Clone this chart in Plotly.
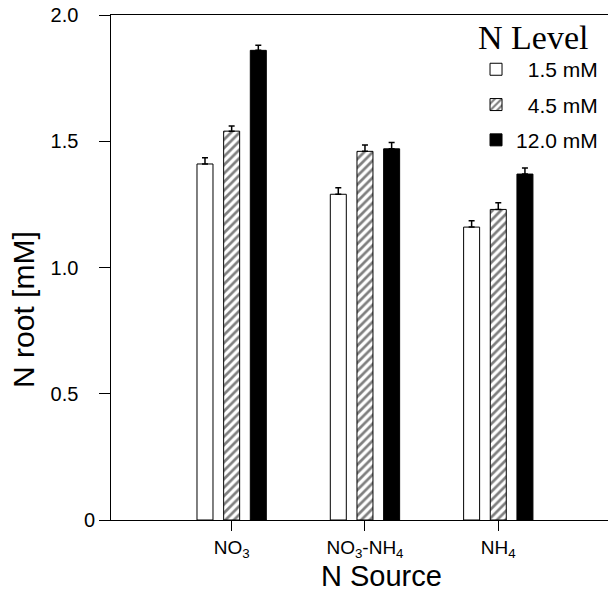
import plotly.graph_objects as go

# ---- data ----
sources = ["NO<sub>3</sub>", "NO<sub>3</sub>-NH<sub>4</sub>", "NH<sub>4</sub>"]
levels = ["1.5 mM", "4.5 mM", "12.0 mM"]
vals_15 = [1.41, 1.29, 1.16]
vals_45 = [1.54, 1.46, 1.23]
vals_120 = [1.86, 1.47, 1.37]
err_15 = [0.025, 0.026, 0.025]
err_45 = [0.020, 0.025, 0.026]
err_120 = [0.020, 0.025, 0.024]
y_tick_vals = [0, 0.5, 1.0, 1.5, 2.0]
y_tick_text = ["0", "0.5", "1.0", "1.5", "2.0"]

SANS = "Liberation Sans, Arial, sans-serif"
SERIF = "Liberation Serif, Times New Roman, serif"
NB = "\u00a0"

series = [
    (levels[0], vals_15, err_15, dict(color="white", line=dict(color="black", width=1))),
    (levels[1], vals_45, err_45, dict(color="white", line=dict(color="black", width=1),
                                     pattern=dict(shape="/", fgcolor="black", bgcolor="white",
                                                  size=6, solidity=0.45))),
    (levels[2], vals_120, err_120, dict(color="black", line=dict(color="black", width=1))),
]
pads = [NB * 2, NB * 2, ""]

fig = go.Figure()
for (name, vals, errs, marker), pad in zip(series, pads):
    fig.add_trace(go.Bar(
        x=sources, y=vals, name=pad + name, marker=marker,
        legendgroup=name,
        error_y=dict(type="data", array=errs, arrayminus=[0] * len(errs), symmetric=False,
                     color="black", thickness=1.5, width=3),
    ))

fig.update_layout(
    width=608, height=598,
    margin=dict(l=111, r=0, t=15, b=78),
    paper_bgcolor="white", plot_bgcolor="white",
    barmode="group", bargap=0.40, bargroupgap=0.40,
    font=dict(family=SANS, size=19, color="black"),
    showlegend=True,
    legend=dict(
        title=dict(text="N Level", font=dict(family=SERIF, size=34, color="black")),
        font=dict(family=SANS, size=21, color="black"),
        x=0.99, xanchor="right", y=1.02, yanchor="top",
        bgcolor="rgba(0,0,0,0)", tracegroupgap=5, traceorder="grouped",
    ),
    xaxis=dict(
        type="category", range=[-0.905, 2.823],
        showline=True, linecolor="black", linewidth=1, mirror=True,
        ticks="outside", ticklen=10, tickcolor="black", tickwidth=1,
        showgrid=False, zeroline=False,
        tickfont=dict(family=SANS, size=19, color="black"),
    ),
    yaxis=dict(
        range=[0, 2.0], tickvals=y_tick_vals,
        ticktext=[t if t == "0" else t + NB * 3 for t in y_tick_text],
        showline=True, linecolor="black", linewidth=1,
        ticks="outside", ticklen=11, tickcolor="black", tickwidth=1,
        showgrid=False, zeroline=False,
        tickfont=dict(family=SANS, size=20, color="black"),
    ),
    annotations=[
        dict(text="N root [mM]", textangle=-90, xref="paper", yref="paper",
             x=-0.175, y=0.416, xanchor="center", yanchor="middle", showarrow=False,
             font=dict(family=SANS, size=30, color="black")),
        dict(text="N Source", xref="paper", yref="paper",
             x=0.545, y=-0.111, xanchor="center", yanchor="middle", showarrow=False,
             font=dict(family=SANS, size=29, color="black")),
    ],
)

fig.write_html("out.html", config={"displayModeBar": False},
               post_script="document.body.style.margin='0px';document.body.style.overflow='hidden';")
